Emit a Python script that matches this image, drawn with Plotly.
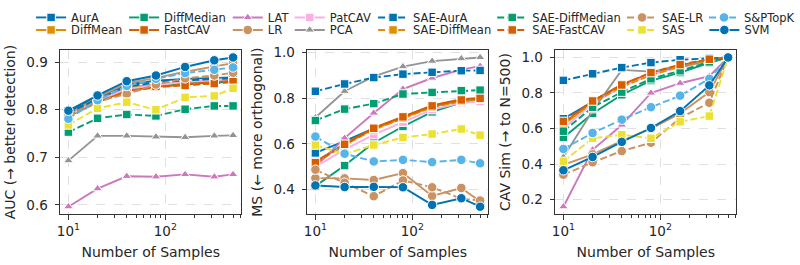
import plotly.graph_objects as go
from plotly.subplots import make_subplots
import numpy as np

# ---------------- data ----------------
N_SAMPLES = [10, 20, 40, 80, 160, 320, 500]

METHODS = ["AurA", "DiffMean", "DiffMedian", "FastCAV", "LAT", "LR", "PatCAV", "PCA",
           "SAE-AurA", "SAE-DiffMean", "SAE-DiffMedian", "SAE-FastCAV", "SAE-LR",
           "SAS", "S&PTopK", "SVM"]

# AUC per method
AUC_AURA = [0.795, 0.827, 0.853, 0.861, 0.865, 0.866, 0.868]
AUC_DIFFMEAN = [0.790, 0.820, 0.846, 0.853, 0.857, 0.860, 0.862]
AUC_DIFFMEDIAN = [0.786, 0.816, 0.842, 0.849, 0.854, 0.857, 0.859]
AUC_FASTCAV = [0.789, 0.816, 0.840, 0.848, 0.853, 0.858, 0.862]
AUC_LAT = [0.596, 0.634, 0.660, 0.659, 0.664, 0.659, 0.664]
AUC_LR = [0.791, 0.826, 0.856, 0.867, 0.880, 0.890, 0.898]
AUC_PATCAV = [0.788, 0.819, 0.844, 0.852, 0.859, 0.862, 0.865]
AUC_PCA = [0.693, 0.745, 0.745, 0.743, 0.742, 0.745, 0.746]
AUC_SAE_AURA = [0.793, 0.823, 0.849, 0.857, 0.862, 0.864, 0.866]
AUC_SAE_DIFFMEAN = [0.787, 0.815, 0.838, 0.847, 0.852, 0.856, 0.858]
AUC_SAE_DIFFMEDIAN = [0.753, 0.782, 0.790, 0.787, 0.801, 0.808, 0.808]
AUC_SAE_FASTCAV = [0.788, 0.818, 0.836, 0.849, 0.851, 0.855, 0.859]
AUC_SAE_LR = [0.787, 0.818, 0.833, 0.853, 0.866, 0.872, 0.878]
AUC_SAS = [0.768, 0.803, 0.816, 0.800, 0.826, 0.829, 0.845]
AUC_SPTOPK = [0.781, 0.820, 0.850, 0.865, 0.877, 0.884, 0.889]
AUC_SVM = [0.798, 0.830, 0.860, 0.872, 0.890, 0.904, 0.910]

# MS per method
MS_AURA = [0.560, 0.612, 0.668, 0.718, 0.765, 0.790, 0.800]
MS_DIFFMEAN = [0.520, 0.598, 0.665, 0.715, 0.762, 0.788, 0.797]
MS_DIFFMEDIAN = [0.415, 0.505, 0.605, 0.676, 0.740, 0.780, 0.790]
MS_FASTCAV = [0.522, 0.600, 0.670, 0.720, 0.768, 0.795, 0.801]
MS_LAT = [0.500, 0.625, 0.735, 0.840, 0.888, 0.925, 0.940]
MS_LR = [0.450, 0.449, 0.442, 0.472, 0.372, 0.407, 0.348]
MS_PATCAV = [0.500, 0.575, 0.640, 0.695, 0.750, 0.780, 0.785]
MS_PCA = [0.715, 0.830, 0.895, 0.938, 0.962, 0.973, 0.978]
MS_SAE_AURA = [0.830, 0.862, 0.890, 0.905, 0.913, 0.920, 0.921]
MS_SAE_DIFFMEAN = [0.515, 0.595, 0.662, 0.712, 0.760, 0.786, 0.795]
MS_SAE_DIFFMEDIAN = [0.702, 0.752, 0.776, 0.818, 0.825, 0.833, 0.835]
MS_SAE_FASTCAV = [0.518, 0.598, 0.668, 0.718, 0.766, 0.792, 0.799]
MS_SAE_LR = [0.487, 0.430, 0.371, 0.440, 0.410, 0.360, 0.352]
MS_SAS = [0.595, 0.555, 0.595, 0.628, 0.643, 0.665, 0.638]
MS_SPTOPK = [0.632, 0.557, 0.523, 0.530, 0.520, 0.530, 0.515]
MS_SVM = [0.418, 0.411, 0.412, 0.410, 0.333, 0.362, 0.325]

# CAV similarity per method
SIM_AURA = [0.655, 0.750, 0.835, 0.912, 0.955, 0.985, 1.0]
SIM_DIFFMEAN = [0.620, 0.750, 0.840, 0.905, 0.950, 0.985, 1.0]
SIM_DIFFMEDIAN = [0.550, 0.685, 0.790, 0.870, 0.915, 0.970, 1.0]
SIM_FASTCAV = [0.630, 0.755, 0.848, 0.912, 0.957, 0.987, 1.0]
SIM_LAT = [0.160, 0.480, 0.620, 0.800, 0.855, 0.895, 1.0]
SIM_LR = [0.395, 0.455, 0.530, 0.600, 0.685, 0.805, 1.0]
SIM_PATCAV = [0.600, 0.740, 0.835, 0.905, 0.945, 0.980, 1.0]
SIM_PCA = [0.440, 0.700, 0.930, 0.920, 0.945, 0.985, 1.0]
SIM_SAE_AURA = [0.871, 0.908, 0.943, 0.971, 0.987, 0.995, 1.0]
SIM_SAE_DIFFMEAN = [0.625, 0.745, 0.835, 0.900, 0.950, 0.985, 1.0]
SIM_SAE_DIFFMEDIAN = [0.585, 0.720, 0.805, 0.880, 0.925, 0.975, 1.0]
SIM_SAE_FASTCAV = [0.640, 0.755, 0.845, 0.915, 0.960, 0.990, 1.0]
SIM_SAE_LR = [0.340, 0.410, 0.473, 0.520, 0.660, 0.745, 1.0]
SIM_SAS = [0.415, 0.545, 0.565, 0.545, 0.638, 0.670, 1.0]
SIM_SPTOPK = [0.485, 0.575, 0.650, 0.720, 0.785, 0.880, 1.0]
SIM_SVM = [0.365, 0.440, 0.525, 0.603, 0.698, 0.843, 1.0]

AUC = [AUC_AURA, AUC_DIFFMEAN, AUC_DIFFMEDIAN, AUC_FASTCAV, AUC_LAT, AUC_LR, AUC_PATCAV,
       AUC_PCA, AUC_SAE_AURA, AUC_SAE_DIFFMEAN, AUC_SAE_DIFFMEDIAN, AUC_SAE_FASTCAV,
       AUC_SAE_LR, AUC_SAS, AUC_SPTOPK, AUC_SVM]
MS = [MS_AURA, MS_DIFFMEAN, MS_DIFFMEDIAN, MS_FASTCAV, MS_LAT, MS_LR, MS_PATCAV,
      MS_PCA, MS_SAE_AURA, MS_SAE_DIFFMEAN, MS_SAE_DIFFMEDIAN, MS_SAE_FASTCAV,
      MS_SAE_LR, MS_SAS, MS_SPTOPK, MS_SVM]
SIM = [SIM_AURA, SIM_DIFFMEAN, SIM_DIFFMEDIAN, SIM_FASTCAV, SIM_LAT, SIM_LR, SIM_PATCAV,
       SIM_PCA, SIM_SAE_AURA, SIM_SAE_DIFFMEAN, SIM_SAE_DIFFMEDIAN, SIM_SAE_FASTCAV,
       SIM_SAE_LR, SIM_SAS, SIM_SPTOPK, SIM_SVM]

Y_TITLES = ["AUC (→ better detection)", "MS (← more orthogonal)", "CAV Sim (→ to N=500)"]
X_TITLE = "Number of Samples"
Y_TICKS = [[0.6, 0.7, 0.8, 0.9], [0.4, 0.6, 0.8, 1.0], [0.2, 0.4, 0.6, 0.8, 1.0]]
X_TICKVALS = [10, 100]
X_TICKTEXT = ["10<sup>1</sup>", "10<sup>2</sup>"]
X_MINOR = [20, 30, 40, 50, 60, 70, 80, 90, 200, 300, 400, 500, 600]

# ---------------- styles ----------------
BLUE, ORANGE, GREEN, VERM = "#0173b2", "#de8f05", "#029e73", "#d55e00"
LILAC, TAN, PINK, GRAY = "#cc78bc", "#ca9161", "#fbafe4", "#949494"
YELLOW, LBLUE = "#ece133", "#56b4e9"
STYLE = {
    "AurA": (BLUE, "square", False),
    "DiffMean": (ORANGE, "square", False),
    "DiffMedian": (GREEN, "square", False),
    "FastCAV": (VERM, "square", False),
    "LAT": (LILAC, "triangle-up", False),
    "LR": (TAN, "circle", False),
    "PatCAV": (PINK, "square", False),
    "PCA": (GRAY, "triangle-up", False),
    "SAE-AurA": (BLUE, "square", True),
    "SAE-DiffMean": (ORANGE, "square", True),
    "SAE-DiffMedian": (GREEN, "square", True),
    "SAE-FastCAV": (VERM, "square", True),
    "SAE-LR": (TAN, "circle", True),
    "SAS": (YELLOW, "square", True),
    "S&PTopK": (LBLUE, "circle", True),
    "SVM": (BLUE, "circle", False),
}
MSIZE = {"square": 8.5, "circle": 9.5, "triangle-up": 8.5}

FONT = "DejaVu Sans"
TXT = "#262626"
W, H = 800, 265

# legend positions (column-major, 8 columns x 2 rows), px of text start / row centre
LEG_TEXT_X = [48, 144, 251, 315, 401, 524, 658, 743]
LEG_ROW_Y = [11.7, 24.5]

fig = make_subplots(rows=1, cols=3)

for i, name in enumerate(METHODS):
    color, symbol, dashed = STYLE[name]
    legname = "legend" if i == 0 else f"legend{i + 1}"
    for c, series in enumerate([AUC, MS, SIM]):
        fig.add_trace(go.Scatter(
            x=N_SAMPLES, y=series[i], name=name, mode="lines+markers",
            line=dict(color=color, width=1.9, dash="7px,3px" if dashed else "solid"),
            marker=dict(symbol=symbol, size=MSIZE[symbol], color=color,
                        line=dict(color="white", width=1)),
            showlegend=(c == 0), legend=legname, cliponaxis=False,
        ), row=1, col=c + 1)

# layout geometry (pixels -> paper fractions)
X_DOMAINS = [(59, 246), (314, 501), (570, 757)]
Y_DOMAIN = (1 - 213 / H, 1 - 45 / H)
lx0, lx1 = np.log10(min(N_SAMPLES)), np.log10(max(N_SAMPLES))
xpad = 0.05 * (lx1 - lx0)

for c, series in enumerate([AUC, MS, SIM]):
    allv = np.array(series)
    lo, hi = allv.min(), allv.max()
    pad = 0.05 * (hi - lo)
    ax = "" if c == 0 else str(c + 1)
    fig.update_layout({
        f"xaxis{ax}": dict(
            domain=[X_DOMAINS[c][0] / W, X_DOMAINS[c][1] / W],
            type="log", range=[lx0 - xpad, lx1 + xpad],
            tickmode="array", tickvals=X_TICKVALS, ticktext=X_TICKTEXT,
            ticks="outside", ticklen=4.5, tickwidth=1.1, tickcolor="#333333",
            minor=dict(tickmode="array", tickvals=X_MINOR, ticks="outside", ticklen=2.5,
                       tickwidth=0.8, tickcolor="#333333", showgrid=False),
            showline=True, linecolor="#333333", linewidth=1.2, mirror=True,
            showgrid=True, gridcolor="#e0e0e0", gridwidth=0.8, griddash="dash",
            zeroline=False,
            tickfont=dict(family=FONT, size=13.5, color=TXT),
            title=dict(text=X_TITLE, font=dict(family=FONT, size=14, color=TXT), standoff=9),
        ),
        f"yaxis{ax}": dict(
            domain=list(Y_DOMAIN), range=[lo - pad, hi + pad],
            tickmode="array", tickvals=Y_TICKS[c], tickformat=".1f",
            ticks="outside", ticklen=4.5, tickwidth=1.1, tickcolor="#333333",
            ticklabelstandoff=4,
            showline=True, linecolor="#333333", linewidth=1.2, mirror=True,
            showgrid=True, gridcolor="#e0e0e0", gridwidth=0.8, griddash="dash",
            zeroline=False,
            tickfont=dict(family=FONT, size=13.5, color=TXT),
            title=dict(text=Y_TITLES[c], font=dict(family=FONT, size=14, color=TXT), standoff=7),
        ),
    })

# legends: one per entry, laid out column-major like the reference
for i, name in enumerate(METHODS):
    col, row = i // 2, i % 2
    key = "legend" if i == 0 else f"legend{i + 1}"
    fig.update_layout({key: dict(
        x=(LEG_TEXT_X[col] - 19) / W, y=1 - LEG_ROW_Y[row] / H,
        xanchor="left", yanchor="middle", xref="paper", yref="paper",
        bgcolor="rgba(0,0,0,0)", borderwidth=0, itemwidth=30,
        font=dict(family=FONT, size=11.5, color=TXT),
    )})

fig.update_layout(
    width=W, height=H, margin=dict(l=0, r=0, t=0, b=0),
    paper_bgcolor="white", plot_bgcolor="white",
    font=dict(family=FONT, color=TXT),
)

fig.write_html("out.html")
